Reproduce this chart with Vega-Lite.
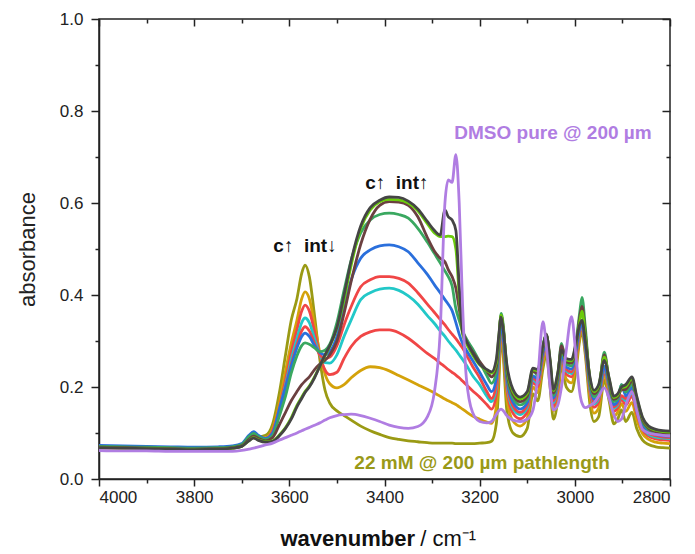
{
  "$schema": "https://vega.github.io/schema/vega-lite/v6.json",
  "width": 571,
  "height": 460,
  "autosize": "none",
  "padding": {"left": 99, "top": 19, "right": 25, "bottom": 75},
  "background": "white",
  "config": {
    "font": "Liberation Sans",
    "view": {"stroke": "#222222", "strokeWidth": 1.5},
    "axis": {"domainColor": "#222222", "tickColor": "#222222", "domainWidth": 1.5, "tickWidth": 1.5, "labelColor": "#222222", "labelFont": "Liberation Sans", "labelFontSize": 17, "grid": false}
  },
  "datasets": {
    "spec": [
      {"w":4000,"a":0.067,"b":0.069,"c":0.070,"d":0.070,"e":0.070,"f":0.073,"g":0.071,"h":0.069,"i":0.068,"j":0.068,"p":0.062},
      {"w":3950,"a":0.066,"b":0.068,"c":0.069,"d":0.069,"e":0.069,"f":0.072,"g":0.070,"h":0.068,"i":0.067,"j":0.067,"p":0.061},
      {"w":3900,"a":0.065,"b":0.067,"c":0.068,"d":0.068,"e":0.068,"f":0.071,"g":0.069,"h":0.067,"i":0.066,"j":0.066,"p":0.061},
      {"w":3850,"a":0.064,"b":0.066,"c":0.067,"d":0.067,"e":0.067,"f":0.070,"g":0.068,"h":0.066,"i":0.065,"j":0.065,"p":0.060},
      {"w":3800,"a":0.064,"b":0.065,"c":0.066,"d":0.066,"e":0.066,"f":0.069,"g":0.067,"h":0.065,"i":0.064,"j":0.064,"p":0.060},
      {"w":3750,"a":0.065,"b":0.066,"c":0.067,"d":0.067,"e":0.067,"f":0.070,"g":0.068,"h":0.066,"i":0.065,"j":0.065,"p":0.060},
      {"w":3720,"a":0.067,"b":0.068,"c":0.069,"d":0.069,"e":0.069,"f":0.072,"g":0.070,"h":0.068,"i":0.067,"j":0.067,"p":0.060},
      {"w":3700,"a":0.072,"b":0.073,"c":0.074,"d":0.074,"e":0.074,"f":0.077,"g":0.075,"h":0.072,"i":0.071,"j":0.071,"p":0.062},
      {"w":3685,"a":0.086,"b":0.088,"c":0.090,"d":0.091,"e":0.091,"f":0.095,"g":0.092,"h":0.086,"i":0.083,"j":0.083,"p":0.065},
      {"w":3675,"a":0.094,"b":0.096,"c":0.098,"d":0.099,"e":0.099,"f":0.103,"g":0.099,"h":0.093,"i":0.090,"j":0.089,"p":0.067},
      {"w":3665,"a":0.092,"b":0.091,"c":0.092,"d":0.092,"e":0.092,"f":0.095,"g":0.092,"h":0.088,"i":0.085,"j":0.084,"p":0.070},
      {"w":3650,"a":0.095,"b":0.090,"c":0.088,"d":0.087,"e":0.087,"f":0.088,"g":0.086,"h":0.083,"i":0.081,"j":0.080,"p":0.074},
      {"w":3635,"a":0.12,"b":0.11,"c":0.105,"d":0.10,"e":0.10,"f":0.10,"g":0.095,"h":0.09,"i":0.083,"j":0.082,"p":0.078},
      {"w":3620,"a":0.193,"b":0.17,"c":0.16,"d":0.155,"e":0.15,"f":0.155,"g":0.14,"h":0.12,"i":0.097,"j":0.095,"p":0.085},
      {"w":3608,"a":0.27,"b":0.235,"c":0.215,"d":0.205,"e":0.20,"f":0.20,"g":0.18,"h":0.145,"i":0.112,"j":0.11,"p":0.09},
      {"w":3596,"a":0.345,"b":0.295,"c":0.275,"d":0.26,"e":0.25,"f":0.245,"g":0.23,"h":0.17,"i":0.133,"j":0.13,"p":0.095},
      {"w":3584,"a":0.392,"b":0.345,"c":0.325,"d":0.305,"e":0.292,"f":0.285,"g":0.268,"h":0.19,"i":0.16,"j":0.157,"p":0.10},
      {"w":3574,"a":0.447,"b":0.392,"c":0.365,"d":0.34,"e":0.322,"f":0.31,"g":0.29,"h":0.205,"i":0.178,"j":0.175,"p":0.105},
      {"w":3567,"a":0.465,"b":0.407,"c":0.378,"d":0.35,"e":0.331,"f":0.317,"g":0.296,"h":0.213,"i":0.19,"j":0.188,"p":0.108},
      {"w":3558,"a":0.44,"b":0.392,"c":0.365,"d":0.34,"e":0.322,"f":0.31,"g":0.293,"h":0.222,"i":0.202,"j":0.2,"p":0.112},
      {"w":3547,"a":0.355,"b":0.335,"c":0.32,"d":0.305,"e":0.295,"f":0.29,"g":0.285,"h":0.238,"i":0.222,"j":0.22,"p":0.117},
      {"w":3536,"a":0.26,"b":0.275,"c":0.27,"d":0.27,"e":0.27,"f":0.275,"g":0.277,"h":0.25,"i":0.245,"j":0.245,"p":0.122},
      {"w":3525,"a":0.193,"b":0.228,"c":0.237,"d":0.253,"e":0.262,"f":0.27,"g":0.28,"h":0.258,"i":0.268,"j":0.27,"p":0.128},
      {"w":3515,"a":0.165,"b":0.207,"c":0.227,"d":0.252,"e":0.265,"f":0.277,"g":0.293,"h":0.27,"i":0.288,"j":0.29,"p":0.133},
      {"w":3500,"a":0.148,"b":0.198,"c":0.232,"d":0.27,"e":0.29,"f":0.31,"g":0.34,"h":0.30,"i":0.328,"j":0.33,"p":0.138},
      {"w":3485,"a":0.138,"b":0.205,"c":0.262,"d":0.31,"e":0.335,"f":0.375,"g":0.41,"h":0.36,"i":0.39,"j":0.40,"p":0.14},
      {"w":3470,"a":0.128,"b":0.22,"c":0.288,"d":0.346,"e":0.375,"f":0.433,"g":0.476,"h":0.43,"i":0.465,"j":0.475,"p":0.141},
      {"w":3450,"a":0.115,"b":0.236,"c":0.31,"d":0.39,"e":0.418,"f":0.48,"g":0.535,"h":0.51,"i":0.545,"j":0.55,"p":0.138},
      {"w":3430,"a":0.105,"b":0.244,"c":0.32,"d":0.405,"e":0.433,"f":0.498,"g":0.563,"h":0.565,"i":0.585,"j":0.59,"p":0.132},
      {"w":3410,"a":0.097,"b":0.242,"c":0.324,"d":0.413,"e":0.44,"f":0.507,"g":0.575,"h":0.595,"i":0.603,"j":0.606,"p":0.125},
      {"w":3390,"a":0.09,"b":0.235,"c":0.324,"d":0.415,"e":0.44,"f":0.509,"g":0.578,"h":0.603,"i":0.608,"j":0.613,"p":0.117},
      {"w":3370,"a":0.086,"b":0.225,"c":0.318,"d":0.41,"e":0.436,"f":0.505,"g":0.575,"h":0.602,"i":0.607,"j":0.612,"p":0.112},
      {"w":3350,"a":0.083,"b":0.215,"c":0.306,"d":0.398,"e":0.426,"f":0.494,"g":0.567,"h":0.595,"i":0.60,"j":0.604,"p":0.11},
      {"w":3330,"a":0.081,"b":0.205,"c":0.29,"d":0.38,"e":0.405,"f":0.47,"g":0.545,"h":0.57,"i":0.583,"j":0.587,"p":0.114},
      {"w":3310,"a":0.079,"b":0.195,"c":0.273,"d":0.355,"e":0.38,"f":0.445,"g":0.515,"h":0.525,"i":0.555,"j":0.56,"p":0.135},
      {"w":3295,"a":0.078,"b":0.187,"c":0.262,"d":0.338,"e":0.362,"f":0.422,"g":0.49,"h":0.495,"i":0.535,"j":0.54,"p":0.19},
      {"w":3283,"a":0.078,"b":0.18,"c":0.252,"d":0.322,"e":0.347,"f":0.405,"g":0.47,"h":0.48,"i":0.527,"j":0.53,"p":0.32},
      {"w":3273,"a":0.078,"b":0.174,"c":0.244,"d":0.31,"e":0.335,"f":0.39,"g":0.452,"h":0.472,"i":0.527,"j":0.585,"p":0.6},
      {"w":3266,"a":0.078,"b":0.17,"c":0.238,"d":0.30,"e":0.325,"f":0.38,"g":0.44,"h":0.455,"i":0.528,"j":0.57,"p":0.65},
      {"w":3258,"a":0.078,"b":0.166,"c":0.232,"d":0.29,"e":0.315,"f":0.366,"g":0.42,"h":0.44,"i":0.527,"j":0.563,"p":0.645},
      {"w":3250,"a":0.077,"b":0.162,"c":0.226,"d":0.28,"e":0.305,"f":0.34,"g":0.37,"h":0.415,"i":0.50,"j":0.54,"p":0.705},
      {"w":3243,"a":0.077,"b":0.157,"c":0.22,"d":0.27,"e":0.295,"f":0.315,"g":0.345,"h":0.37,"i":0.40,"j":0.42,"p":0.6},
      {"w":3236,"a":0.077,"b":0.152,"c":0.213,"d":0.26,"e":0.285,"f":0.295,"g":0.322,"h":0.325,"i":0.315,"j":0.32,"p":0.38},
      {"w":3228,"a":0.077,"b":0.146,"c":0.205,"d":0.248,"e":0.27,"f":0.28,"g":0.305,"h":0.30,"i":0.295,"j":0.30,"p":0.22},
      {"w":3215,"a":0.077,"b":0.137,"c":0.192,"d":0.225,"e":0.245,"f":0.258,"g":0.283,"h":0.277,"i":0.27,"j":0.275,"p":0.145},
      {"w":3200,"a":0.078,"b":0.13,"c":0.178,"d":0.205,"e":0.22,"f":0.232,"g":0.255,"h":0.255,"i":0.248,"j":0.25,"p":0.125},
      {"w":3185,"a":0.079,"b":0.124,"c":0.162,"d":0.18,"e":0.19,"f":0.205,"g":0.225,"h":0.235,"i":0.236,"j":0.238,"p":0.122},
      {"w":3175,"a":0.082,"b":0.121,"c":0.152,"d":0.168,"e":0.175,"f":0.19,"g":0.208,"h":0.222,"i":0.23,"j":0.233,"p":0.125},
      {"w":3165,"a":0.12,"b":0.158,"c":0.183,"d":0.198,"e":0.207,"f":0.218,"g":0.232,"h":0.243,"i":0.253,"j":0.26,"p":0.14},
      {"w":3160,"a":0.20,"b":0.23,"c":0.25,"d":0.262,"e":0.268,"f":0.277,"g":0.288,"h":0.297,"i":0.305,"j":0.31,"p":0.148},
      {"w":3155,"a":0.31,"b":0.321,"c":0.329,"d":0.334,"e":0.336,"f":0.339,"g":0.36,"h":0.355,"i":0.356,"j":0.352,"p":0.152},
      {"w":3150,"a":0.26,"b":0.276,"c":0.287,"d":0.294,"e":0.297,"f":0.302,"g":0.33,"h":0.325,"i":0.323,"j":0.32,"p":0.148},
      {"w":3143,"a":0.15,"b":0.177,"c":0.195,"d":0.206,"e":0.212,"f":0.22,"g":0.23,"h":0.238,"i":0.245,"j":0.25,"p":0.138},
      {"w":3130,"a":0.10,"b":0.126,"c":0.143,"d":0.153,"e":0.159,"f":0.167,"g":0.176,"h":0.184,"i":0.19,"j":0.195,"p":0.128},
      {"w":3115,"a":0.092,"b":0.115,"c":0.131,"d":0.14,"e":0.145,"f":0.152,"g":0.161,"h":0.168,"i":0.174,"j":0.178,"p":0.125},
      {"w":3100,"a":0.11,"b":0.132,"c":0.146,"d":0.155,"e":0.16,"f":0.166,"g":0.174,"h":0.18,"i":0.186,"j":0.19,"p":0.13},
      {"w":3088,"a":0.185,"b":0.20,"c":0.21,"d":0.216,"e":0.22,"f":0.224,"g":0.238,"h":0.234,"i":0.238,"j":0.241,"p":0.15},
      {"w":3078,"a":0.17,"b":0.188,"c":0.201,"d":0.208,"e":0.212,"f":0.218,"g":0.224,"h":0.23,"i":0.235,"j":0.238,"p":0.22},
      {"w":3067,"a":0.24,"b":0.254,"c":0.263,"d":0.268,"e":0.271,"f":0.275,"g":0.29,"h":0.284,"i":0.288,"j":0.29,"p":0.342},
      {"w":3060,"a":0.27,"b":0.282,"c":0.289,"d":0.294,"e":0.297,"f":0.30,"g":0.315,"h":0.315,"i":0.312,"j":0.313,"p":0.29},
      {"w":3052,"a":0.20,"b":0.216,"c":0.227,"d":0.234,"e":0.237,"f":0.242,"g":0.248,"h":0.253,"i":0.257,"j":0.26,"p":0.2},
      {"w":3045,"a":0.13,"b":0.148,"c":0.159,"d":0.166,"e":0.17,"f":0.176,"g":0.182,"h":0.187,"i":0.192,"j":0.195,"p":0.15},
      {"w":3036,"a":0.17,"b":0.186,"c":0.197,"d":0.204,"e":0.207,"f":0.212,"g":0.218,"h":0.223,"i":0.227,"j":0.23,"p":0.16},
      {"w":3028,"a":0.245,"b":0.254,"c":0.261,"d":0.265,"e":0.267,"f":0.27,"g":0.295,"h":0.29,"i":0.278,"j":0.28,"p":0.2},
      {"w":3018,"a":0.20,"b":0.217,"c":0.228,"d":0.235,"e":0.238,"f":0.243,"g":0.25,"h":0.255,"i":0.259,"j":0.262,"p":0.28},
      {"w":3007,"a":0.19,"b":0.209,"c":0.222,"d":0.229,"e":0.233,"f":0.239,"g":0.246,"h":0.252,"i":0.257,"j":0.26,"p":0.353},
      {"w":2997,"a":0.24,"b":0.256,"c":0.267,"d":0.274,"e":0.277,"f":0.282,"g":0.30,"h":0.293,"i":0.297,"j":0.30,"p":0.26},
      {"w":2990,"a":0.30,"b":0.309,"c":0.316,"d":0.32,"e":0.322,"f":0.325,"g":0.36,"h":0.35,"i":0.34,"j":0.335,"p":0.19},
      {"w":2985,"a":0.32,"b":0.327,"c":0.331,"d":0.334,"e":0.336,"f":0.338,"g":0.395,"h":0.375,"i":0.365,"j":0.345,"p":0.165},
      {"w":2978,"a":0.27,"b":0.278,"c":0.284,"d":0.287,"e":0.289,"f":0.291,"g":0.33,"h":0.318,"i":0.31,"j":0.30,"p":0.155},
      {"w":2968,"a":0.16,"b":0.176,"c":0.187,"d":0.194,"e":0.197,"f":0.202,"g":0.208,"h":0.213,"i":0.217,"j":0.22,"p":0.16},
      {"w":2960,"a":0.125,"b":0.143,"c":0.156,"d":0.163,"e":0.167,"f":0.173,"g":0.179,"h":0.185,"i":0.19,"j":0.193,"p":0.165},
      {"w":2950,"a":0.135,"b":0.154,"c":0.167,"d":0.174,"e":0.178,"f":0.184,"g":0.191,"h":0.197,"i":0.202,"j":0.205,"p":0.18},
      {"w":2938,"a":0.215,"b":0.227,"c":0.234,"d":0.239,"e":0.242,"f":0.245,"g":0.276,"h":0.27,"i":0.265,"j":0.258,"p":0.198},
      {"w":2928,"a":0.17,"b":0.184,"c":0.193,"d":0.198,"e":0.201,"f":0.205,"g":0.21,"h":0.214,"i":0.218,"j":0.22,"p":0.175},
      {"w":2918,"a":0.12,"b":0.136,"c":0.147,"d":0.154,"e":0.157,"f":0.162,"g":0.168,"h":0.173,"i":0.177,"j":0.18,"p":0.14},
      {"w":2910,"a":0.13,"b":0.145,"c":0.155,"d":0.161,"e":0.164,"f":0.169,"g":0.174,"h":0.178,"i":0.182,"j":0.185,"p":0.125},
      {"w":2902,"a":0.15,"b":0.164,"c":0.173,"d":0.178,"e":0.181,"f":0.205,"g":0.205,"h":0.194,"i":0.198,"j":0.20,"p":0.13},
      {"w":2893,"a":0.125,"b":0.147,"c":0.161,"d":0.17,"e":0.175,"f":0.181,"g":0.189,"h":0.195,"i":0.201,"j":0.205,"p":0.16},
      {"w":2880,"a":0.145,"b":0.166,"c":0.18,"d":0.188,"e":0.193,"f":0.199,"g":0.207,"h":0.213,"i":0.218,"j":0.222,"p":0.19},
      {"w":2870,"a":0.11,"b":0.129,"c":0.142,"d":0.149,"e":0.153,"f":0.159,"g":0.166,"h":0.172,"i":0.177,"j":0.18,"p":0.15},
      {"w":2858,"a":0.085,"b":0.099,"c":0.108,"d":0.113,"e":0.116,"f":0.12,"g":0.125,"h":0.129,"i":0.133,"j":0.135,"p":0.108},
      {"w":2845,"a":0.075,"b":0.086,"c":0.093,"d":0.097,"e":0.10,"f":0.103,"g":0.107,"h":0.11,"i":0.113,"j":0.115,"p":0.10},
      {"w":2830,"a":0.07,"b":0.08,"c":0.087,"d":0.091,"e":0.094,"f":0.097,"g":0.10,"h":0.103,"i":0.106,"j":0.108,"p":0.097},
      {"w":2815,"a":0.068,"b":0.078,"c":0.085,"d":0.089,"e":0.091,"f":0.094,"g":0.098,"h":0.101,"i":0.103,"j":0.105,"p":0.095},
      {"w":2800,"a":0.067,"b":0.077,"c":0.084,"d":0.088,"e":0.09,"f":0.093,"g":0.097,"h":0.10,"i":0.102,"j":0.104,"p":0.094}
    ],
    "notesBlack": [
      {"w": 3567, "A": 0.507, "t": "c↑\u00a0\u00a0int↓"},
      {"w": 3374, "A": 0.643, "t": "c↑\u00a0\u00a0int↑"}
    ],
    "notePurple": [{"w": 3046, "A": 0.752, "t": "DMSO pure @ 200 µm"}],
    "noteOlive": [{"w": 3195, "A": 0.035, "t": "22 mM @ 200 µm pathlength"}],
    "xt1": [{"w": 3336, "A": -0.13, "t": "wavenumber"}],
    "xt2": [{"w": 3325, "A": -0.13, "t": "/ cm⁻¹"}]
  },
  "resolve": {"axis": {"x": "independent", "y": "independent"}},
  "layer": [
    {
      "data": {"name": "spec"},
      "transform": [{"fold": ["a","b","c","d","e","f","g","h","i","j","p"], "as": ["s", "A"]}],
      "mark": {"type": "line", "strokeWidth": 2.8, "interpolate": "monotone", "clip": true},
      "encoding": {
        "x": {"field": "w", "type": "quantitative", "scale": {"domain": [2800, 4000], "reverse": true, "nice": false, "zero": false},
              "axis": {"orient": "bottom", "values": [2800,3000,3200,3400,3600,3800,4000], "format": "d", "title": null, "tickSize": 7, "labelPadding": 3}},
        "y": {"field": "A", "type": "quantitative", "scale": {"domain": [0, 1], "nice": false},
              "axis": {"orient": "left", "values": [0,0.2,0.4,0.6,0.8,1.0], "format": ".1f", "tickSize": 8, "labelPadding": 8, "title": "absorbance", "titleFont": "Liberation Sans", "titleFontSize": 22, "titleFontWeight": "normal", "titleColor": "#222222", "titlePadding": 20}},
        "color": {"field": "s", "type": "nominal",
                  "scale": {"domain": ["a","b","c","d","e","f","g","h","i","j","p"],
                            "range": ["#9a9a14","#d4a20a","#f04646","#22c8c8","#f04646","#2a6fdc","#3aa860","#6b4040","#6acc0a","#454545","#b07de2"]},
                  "legend": null}
      }
    },
    {
      "data": {"name": "notesBlack"},
      "mark": {"type": "text", "font": "Liberation Sans", "fontWeight": "bold", "fontSize": 19, "align": "center", "baseline": "middle", "color": "#111111"},
      "encoding": {
        "x": {"field": "w", "type": "quantitative",
              "axis": {"orient": "bottom", "values": [2900,3100,3300,3500,3700,3900], "labels": false, "tickSize": 4, "domain": false, "title": null}},
        "y": {"field": "A", "type": "quantitative",
              "axis": {"orient": "left", "values": [0.1,0.3,0.5,0.7,0.9], "labels": false, "tickSize": 4, "domain": false, "title": null}},
        "text": {"field": "t"}
      }
    },
    {
      "data": {"name": "notePurple"},
      "mark": {"type": "text", "font": "Liberation Sans", "fontWeight": "bold", "fontSize": 19, "align": "center", "baseline": "middle", "color": "#b07de2"},
      "encoding": {
        "x": {"field": "w", "type": "quantitative", "axis": null},
        "y": {"field": "A", "type": "quantitative", "axis": null},
        "text": {"field": "t"}
      }
    },
    {
      "data": {"name": "noteOlive"},
      "mark": {"type": "text", "font": "Liberation Sans", "fontWeight": "bold", "fontSize": 19, "align": "center", "baseline": "middle", "color": "#999918"},
      "encoding": {
        "x": {"field": "w", "type": "quantitative", "axis": null},
        "y": {"field": "A", "type": "quantitative", "axis": null},
        "text": {"field": "t"}
      }
    },
    {
      "data": {"name": "xt1"},
      "mark": {"type": "text", "font": "Liberation Sans", "fontWeight": "bold", "fontSize": 22, "align": "right", "baseline": "middle", "color": "#111111"},
      "encoding": {
        "x": {"field": "w", "type": "quantitative",
              "axis": {"orient": "top", "values": [2800,3000,3200,3400,3600,3800,4000], "labels": false, "tickSize": -7, "domain": false, "title": null}},
        "y": {"field": "A", "type": "quantitative",
              "axis": {"orient": "right", "values": [0,0.2,0.4,0.6,0.8,1.0], "labels": false, "tickSize": -8, "domain": false, "title": null}},
        "text": {"field": "t"}
      }
    },
    {
      "data": {"name": "xt2"},
      "mark": {"type": "text", "font": "Liberation Sans", "fontWeight": "normal", "fontSize": 22, "align": "left", "baseline": "middle", "color": "#111111"},
      "encoding": {
        "x": {"field": "w", "type": "quantitative",
              "axis": {"orient": "top", "values": [2900,3100,3300,3500,3700,3900], "labels": false, "tickSize": -4, "domain": false, "title": null}},
        "y": {"field": "A", "type": "quantitative",
              "axis": {"orient": "right", "values": [0.1,0.3,0.5,0.7,0.9], "labels": false, "tickSize": -4, "domain": false, "title": null}},
        "text": {"field": "t"}
      }
    }
  ]
}
